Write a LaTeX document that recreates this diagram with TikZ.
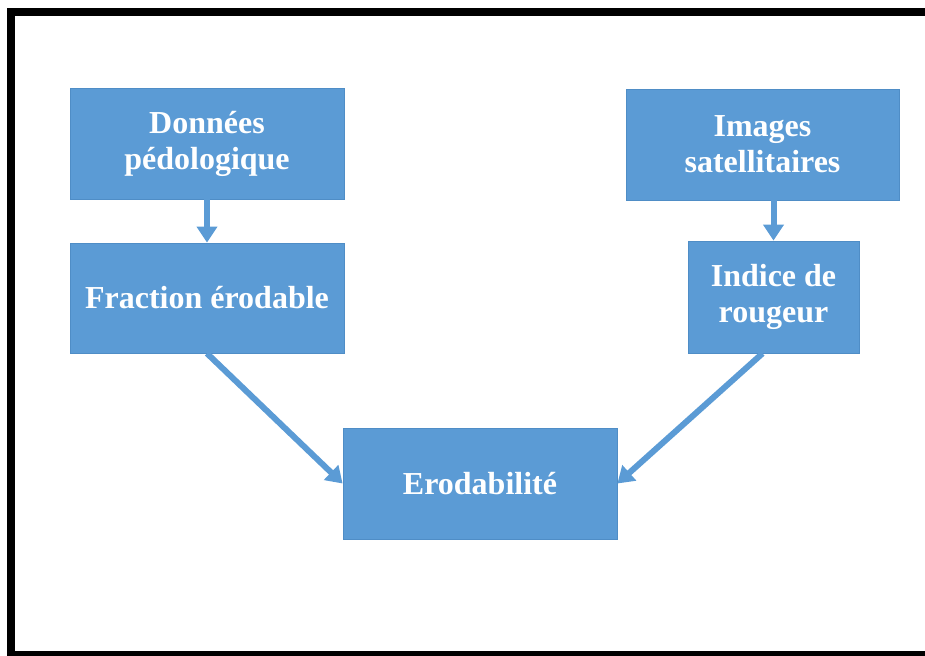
\documentclass[tikz,border=0pt]{standalone}
\usepackage{fontspec}
\setmainfont{Liberation Serif}
\usetikzlibrary{arrows.meta}
\definecolor{boxblue}{HTML}{5B9BD5}
\definecolor{boxedge}{HTML}{4F8DC6}
\tikzset{
  box/.style={rectangle, fill=boxblue, draw=boxedge, line width=0.8pt, text=white, align=center,
    font=\fontsize{32}{36}\selectfont\bfseries, inner sep=0pt},
  flow/.style={draw=boxblue, line width=6pt, -{Triangle[width=20pt,length=16pt]}}
}
\begin{document}
\begin{tikzpicture}[x=1pt,y=-1pt] %one unit is one pixel of the 925x655 frame
\useasboundingbox (0,0) rectangle (925,655);
\clip (0,0) rectangle (925,655); %the frame runs off the right and bottom edges
\draw[line width=8pt] (10.5,12) rectangle (935,655); %black frame
\node[box, minimum width=274pt, minimum height=111pt] (donnees) at (207,143.5) {Données\\pédologique};
\node[box, minimum width=274pt, minimum height=110pt] (fraction) at (207,298) {Fraction érodable};
\node[box, minimum width=273pt, minimum height=111pt] (images) at (762.5,144.5) {Images\\satellitaires};
\node[box, minimum width=171pt, minimum height=112pt] (indice) at (773.5,297) {Indice de\\rougeur};
\node[box, minimum width=274pt, minimum height=111pt] (erod) at (480,483.5) {Erodabilité};
\draw[flow] (donnees.south) -- (fraction.north); %left column
\draw[flow] (indice.north |- images.south) -- (indice.north); %right column
\draw[flow] (fraction.south) -- (erod.west); %towards the result
\draw[flow] ([xshift=-11pt]indice.south) -- (erod.east);
\end{tikzpicture}
\end{document}
